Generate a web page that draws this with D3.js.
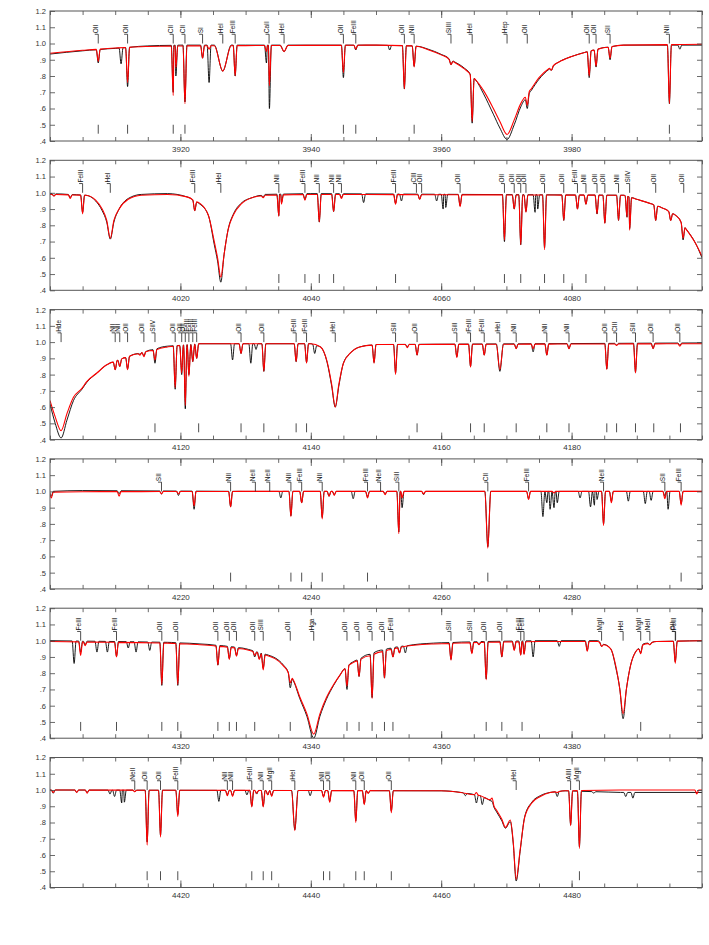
<!DOCTYPE html>
<html>
<head>
<meta charset="utf-8">
<script src="https://cdnjs.cloudflare.com/ajax/libs/d3/7.8.5/d3.min.js"></script>
<style>
body { margin: 0; background: #fff; }
svg { display: block; font-family: "Liberation Sans", Arial, sans-serif; }
</style>
</head>
<body>
<svg id="chart" width="709" height="945"></svg>
<script>
// first wavelength of each panel (each spans 100 A)
var starts = [3900, 4000, 4100, 4200, 4300, 4400];
var yTicks = [0.4, 0.5, 0.6, 0.7, 0.8, 0.9, 1.0, 1.1, 1.2];

// continuum + broad wings: [lambda, model, observed]
var wings1 = [[3900,0.94,0.935],[3905,0.958,0.955],[3910,0.972,0.97],[3915,0.982,0.985],[3920,0.985,0.99],[3930,0.987,0.99],
  [3950,0.99,0.99],[3956,0.985,0.985],[3958,0.962,0.965],[3960,0.93,0.933],[3962,0.885,0.888],[3963.5,0.845,0.85],
  [3965.3,0.775,0.775],[3966.5,0.71,0.69],[3968,0.60,0.565],[3969,0.52,0.48],[3970.1,0.44,0.41],[3971.2,0.53,0.50],
  [3972.2,0.63,0.61],[3973.8,0.72,0.71],[3975,0.79,0.78],[3976.5,0.845,0.84],[3978,0.885,0.885],[3980,0.92,0.92],
  [3982,0.945,0.945],[3984,0.965,0.965],[3986,0.98,0.98],[3988,0.99,0.99],[4000,0.995,0.99]];
var wings2 = [[4000,0.99,0.995],[4005.5,0.985,0.985],[4007,0.955,0.95],[4008,0.90,0.89],[4008.7,0.83,0.82],
  [4009.25,0.72,0.715],[4009.8,0.83,0.82],[4010.6,0.90,0.90],[4012,0.96,0.965],[4014,0.985,0.99],[4018,0.99,0.995],
  [4021,0.975,0.975],[4023,0.935,0.93],[4024.3,0.86,0.86],[4025.2,0.70,0.68],[4025.7,0.60,0.58],[4026.2,0.48,0.45],
  [4026.7,0.62,0.62],[4027.3,0.77,0.77],[4028.2,0.87,0.875],[4029.3,0.93,0.935],[4031,0.97,0.97],[4033,0.985,0.99],
  [4040,0.99,0.995],[4088,0.985,0.985],[4090,0.96,0.96],[4092,0.935,0.935],[4094,0.905,0.905],[4096,0.86,0.86],
  [4097.5,0.78,0.78],[4099,0.69,0.69],[4100,0.61,0.60]];
var wings3 = [[4100,0.64,0.62],[4100.8,0.54,0.50],[4101.7,0.455,0.41],[4102.6,0.56,0.52],[4103.6,0.66,0.64],
  [4104.9,0.715,0.71],[4105.6,0.755,0.75],[4107.2,0.81,0.81],[4108.7,0.86,0.86],[4110.5,0.89,0.89],[4112,0.91,0.91],
  [4114,0.935,0.935],[4116,0.95,0.955],[4118,0.97,0.975],[4120,0.98,0.98],[4123,0.99,0.99],[4140,0.99,0.99],
  [4141.5,0.97,0.97],[4142.5,0.88,0.875],[4143.2,0.74,0.73],[4143.75,0.60,0.60],[4144.3,0.74,0.73],[4145,0.87,0.87],
  [4146,0.93,0.93],[4147.5,0.97,0.97],[4150,0.985,0.985],[4200,0.99,0.995]];
var wings4 = [[4200,0.995,1.0],[4205,0.998,1.005],[4230,1.0,1.0],[4300,1.0,1.0]];
var wings5 = [[4300,0.995,1.0],[4310,0.99,0.995],[4318,0.985,0.99],[4323,0.975,0.98],[4326,0.965,0.97],
  [4328.5,0.955,0.96],[4331,0.935,0.94],[4333.2,0.91,0.915],[4335.8,0.845,0.85],[4337.3,0.76,0.755],
  [4338.3,0.655,0.645],[4339.4,0.55,0.535],[4340.45,0.425,0.40],[4341.4,0.55,0.535],[4342.4,0.65,0.64],
  [4343.5,0.73,0.725],[4344.5,0.79,0.79],[4345.5,0.84,0.84],[4346.5,0.865,0.87],[4347.6,0.885,0.89],
  [4349.6,0.915,0.925],[4351.2,0.935,0.945],[4353.7,0.96,0.965],[4358.8,0.98,0.985],[4366.5,0.99,0.995],
  [4375,0.995,1.0],[4384,0.995,1.0],[4386,0.95,0.95],[4386.8,0.84,0.83],[4387.4,0.70,0.70],[4387.9,0.55,0.52],
  [4388.4,0.70,0.70],[4389,0.84,0.84],[4389.8,0.93,0.93],[4391,0.975,0.98],[4393,0.995,0.995],[4400,1.0,1.0]];
var wings6 = [[4400,1.0,1.0],[4460,0.995,0.995],[4463,0.985,0.985],[4466,0.965,0.965],[4467.5,0.94,0.935],
  [4468.5,0.875,0.865],[4469.3,0.82,0.81],[4469.85,0.77,0.765],[4470.6,0.815,0.805],[4471.05,0.68,0.67],
  [4471.5,0.45,0.44],[4472.1,0.63,0.62],[4472.8,0.83,0.835],[4473.9,0.92,0.925],[4475.2,0.96,0.965],
  [4476.7,0.985,0.985],[4479,0.995,0.995],[4487.5,1.0,0.985],[4500,1.0,0.985]];

// narrow lines: [lambda, model minimum, observed minimum, half width]
var lines1 = [[3907.4,0.89,0.88],[3910.9,null,0.875],[3911.9,0.76,0.735],[3918.9,0.68,0.70],[3919.3,0.85,0.80],
  [3920.7,0.63,0.64],[3923.4,0.91,0.91],[3924.4,0.965,0.76],[3926.5,0.83,0.83,1.3],[3928.4,0.80,0.80],
  [3933.2,0.95,0.88],[3933.65,0.74,0.60],[3935.9,0.95,0.95,0.6],[3945.0,0.82,0.79],[3946.9,0.965,0.96],
  [3952.1,null,0.96],[3954.35,0.72,0.72],[3955.85,0.855,0.86],[3961.5,0.87,0.87],[3964.75,0.52,0.51],
  [3973.2,0.62,0.60],[3976.9,0.835,0.835],[3982.7,0.80,0.79],[3983.75,0.86,0.855],[3985.9,0.91,0.90],
  [3995.0,0.63,0.63],[3996.6,null,0.965]];
var lines2 = [[4000.6,0.98,0.98],[4003.1,0.965,0.97],[4005.0,0.87,0.88],[4022.2,0.89,0.89],[4032.7,0.97,0.975],
  [4035.1,0.855,0.86],[4035.5,0.93,0.94],[4039.1,0.955,0.96],[4041.3,0.82,0.82],[4043.5,0.885,0.885],
  [4044.7,0.965,0.97],[4048.1,null,0.94],[4053.0,0.93,0.935],[4053.9,null,0.95],[4056.7,0.96,0.96],
  [4059.3,null,0.95],[4060.3,null,0.90],[4060.7,null,0.91],[4062.9,0.915,0.92],[4069.7,0.71,0.70],
  [4071.2,0.90,0.90],[4072.2,0.68,0.68],[4073.0,0.88,0.885],[4074.4,null,0.88],[4074.8,null,0.90],
  [4075.85,0.65,0.66],[4078.8,0.83,0.83],[4080.9,0.90,0.90],[4082.2,0.93,0.93],[4083.9,0.87,0.87],
  [4085.1,0.81,0.815],[4087.2,0.83,0.83],[4088.5,0.85,0.85],[4088.9,0.77,0.78],[4092.9,0.83,0.83],
  [4095.2,0.83,0.83],[4097.1,0.72,0.71]];
var lines3 = [[4110.0,0.83,0.83],[4110.7,0.85,0.85],[4111.9,0.83,0.835],[4113.8,0.92,0.925],[4114.4,0.91,0.915],
  [4116.1,0.89,0.87],[4119.2,0.72,0.71],[4120.2,0.81,0.80],[4120.75,0.61,0.59],[4121.3,0.79,0.80],
  [4121.9,0.88,0.88],[4122.5,0.90,0.90],[4128.0,null,0.89],[4129.3,0.93,0.93],[4130.8,null,0.87],
  [4131.6,null,0.955],[4132.8,0.82,0.82],[4137.75,0.88,0.88],[4139.35,0.87,0.875],[4140.6,null,0.93],
  [4149.7,0.87,0.875],[4153.0,0.80,0.81],[4154.8,0.965,0.97],[4156.3,0.92,0.92],[4162.4,0.905,0.91],
  [4164.5,0.845,0.85],[4166.6,0.92,0.92],[4169.0,0.83,0.82,0.55],[4171.5,0.96,0.96],[4174.1,0.96,0.94],
  [4176.2,0.92,0.92],[4179.6,0.96,0.96],[4185.4,0.83,0.835],[4186.9,0.98,0.98],[4189.8,0.81,0.815],
  [4192.5,0.96,0.96],[4196.6,0.975,0.98]];
var lines4 = [[4200.2,0.96,0.97],[4210.6,0.97,0.985],[4217.1,0.985,0.985],[4219.7,0.985,0.975],[4222.1,0.91,0.89],
  [4227.7,0.905,0.905],[4235.4,null,0.96],[4236.95,0.845,0.85],[4238.6,0.93,0.93],[4241.75,0.83,0.84],
  [4242.8,0.97,0.97],[4243.6,0.975,0.98],[4246.5,null,0.955],[4248.7,0.96,0.965],[4251.4,0.98,0.985],
  [4253.5,0.74,0.75],[4254.0,0.96,0.90],[4257.3,0.985,0.98],[4267.15,0.65,0.66,0.45],[4273.4,0.95,0.955],
  [4275.6,null,0.845],[4276.2,null,0.93],[4276.7,null,0.89],[4277.3,0.99,0.90],[4277.8,null,0.93],
  [4281.3,null,0.96],[4282.9,null,0.905],[4283.5,null,0.915],[4283.9,null,0.95],[4284.9,0.79,0.80],
  [4286.1,0.93,0.94],[4288.7,null,0.94],[4291.3,null,0.925],[4292.2,null,0.945],[4294.3,0.955,0.97],
  [4294.8,null,0.89],[4296.8,0.915,0.925]];
var lines5 = [[4303.7,null,0.86],[4304.7,0.91,0.93],[4305.4,0.97,0.975],[4307.2,null,0.93],[4308.8,null,0.93],
  [4310.2,0.90,0.905],[4312.0,null,0.955],[4313.2,null,0.93],[4315.3,null,0.94],[4317.15,0.73,0.725],
  [4319.6,0.73,0.725],[4325.75,0.85,0.85],[4327.5,0.885,0.89],[4328.6,0.905,0.91],[4331.4,0.91,0.90],
  [4332.1,0.885,0.89],[4332.7,0.82,0.83],[4336.85,0.74,0.71],[4345.55,0.72,0.70],[4347.4,0.78,0.78],
  [4349.4,0.645,0.65],[4351.3,0.77,0.77],[4352.6,0.90,0.90],[4353.6,0.925,0.925],[4354.5,null,0.925],
  [4361.5,0.88,0.885],[4364.7,0.92,0.925],[4365.8,0.975,0.975],[4366.9,0.76,0.765],[4369.3,0.90,0.90],
  [4371.2,0.94,0.945],[4372.2,0.91,0.915],[4372.7,0.915,0.92],[4374.1,null,0.90],[4378.1,null,0.965],
  [4382.4,0.935,0.94],[4384.6,0.965,0.965],[4390.6,0.92,0.925],[4392.0,0.975,0.975],[4395.9,0.86,0.87]];
var lines6 = [[4400.5,0.985,0.98],[4404.1,0.985,0.985],[4405.7,0.98,0.985],[4409.2,null,0.975],[4409.9,null,0.96],
  [4411.0,null,0.92],[4411.4,null,0.925],[4413.0,0.99,0.99],[4414.9,0.66,0.68],[4416.95,0.71,0.72],
  [4419.6,0.835,0.85],[4425.9,null,0.93],[4427.2,0.965,0.97],[4428.0,0.96,0.965],[4430.2,null,0.97],
  [4430.95,0.895,0.90],[4431.7,0.98,0.975],[4432.7,0.895,0.90],[4433.4,0.97,0.97],[4434.0,0.96,0.965],
  [4437.55,0.75,0.755,0.5],[4439.9,null,0.965],[4441.95,0.955,0.96],[4442.9,0.925,0.93],[4446.9,0.80,0.81],
  [4448.2,0.91,0.915],[4448.8,0.98,0.98],[4452.35,0.86,0.87],[4463.7,null,0.965],[4465.4,0.985,0.92],
  [4466.3,null,0.91],[4467.8,0.95,0.93],[4477.8,0.985,0.96],[4479.85,0.78,0.785],[4481.2,0.64,0.65],
  [4483.4,null,0.98],[4488.3,null,0.96],[4489.4,null,0.95],[4499.2,0.975,null]];

// line identifications at the top of each panel
var labels1 = [[3907.4,"OII"],[3911.9,"OII"],[3918.9,"CII"],[3920.7,"CII"],[3923.4,"SI"],[3926.5,"HeI"],
  [3928.4,"FeIII"],[3933.6,"CaII"],[3935.9,"HeI"],[3945.0,"OII"],[3946.9,"FeIII"],[3954.35,"OII"],[3955.85,"NII"],
  [3961.5,"SiIII"],[3964.75,"HeI"],[3970.1,"Hep"],[3973.2,"OII"],[3982.7,"OII"],[3983.75,"OII"],[3985.9,"SII"],
  [3995.0,"NII"]];
var labels2 = [[4005.0,"FeIII"],[4009.25,"HeI"],[4022.2,"FeIII"],[4026.2,"HeI"],[4035.1,"NII"],[4039.1,"FeIII"],
  [4041.3,"NII"],[4043.5,"NII"],[4044.7,"NII"],[4053.0,"FeIII"],[4056.2,"CIII"],[4057.0,"OII"],[4062.9,"OII"],
  [4069.7,"OII"],[4071.2,"OII"],[4072.2,"OII"],[4073.0,"OII"],[4075.85,"OII"],[4078.8,"OII"],[4080.9,"FeIII"],
  [4082.2,"NII"],[4083.9,"OII"],[4085.1,"OII"],[4087.2,"NII"],[4088.9,"SiIV"],[4092.9,"OII"],[4097.2,"OII"]];
var labels3 = [[4101.7,"Hde"],[4110.0,"NII"],[4110.7,"NII"],[4111.9,"OII"],[4114.4,"OII"],[4116.1,"SiIV"],
  [4119.2,"OII"],[4120.2,"OII"],[4120.75,"OII"],[4121.3,"FeIII"],[4121.9,"FeIII"],[4122.5,"FeIII"],[4129.3,"OII"],
  [4132.8,"OII"],[4137.75,"FeIII"],[4139.35,"FeIII"],[4143.75,"HeI"],[4153.0,"SiII"],[4156.3,"OII"],[4162.4,"SiII"],
  [4164.5,"FeIII"],[4166.6,"FeIII"],[4169.0,"HeI"],[4171.5,"NII"],[4176.2,"NII"],[4179.6,"NII"],[4185.4,"OII"],
  [4186.9,"CIII"],[4189.8,"SiII"],[4192.5,"OII"],[4196.6,"OII"]];
var labels4 = [[4217.1,"SII"],[4227.7,"NII"],[4231.5,"NeII"],[4233.7,"NeII"],[4236.95,"NII"],[4238.6,"FeIII"],
  [4241.75,"NII"],[4248.7,"FeIII"],[4250.7,"NeII"],[4253.5,"SiII"],[4267.15,"CII"],[4273.4,"FeIII"],
  [4284.9,"NeII"],[4294.3,"SII"],[4296.8,"FeIII"]];
var labels5 = [[4304.7,"FeIII"],[4310.2,"FeIII"],[4317.15,"OII"],[4319.6,"OII"],[4325.75,"OII"],[4327.5,"OII"],
  [4328.6,"OII"],[4331.4,"OII"],[4332.7,"SiIII"],[4336.85,"OII"],[4340.45,"Hga"],[4345.55,"OII"],[4347.4,"OII"],
  [4349.4,"OII"],[4351.3,"OII"],[4352.6,"FeIII"],[4361.5,"SIII"],[4364.7,"SIII"],[4366.9,"OII"],[4369.3,"OII"],
  [4372.2,"FeIII"],[4372.7,"FeIII"],[4384.6,"MgII"],[4387.9,"HeI"],[4390.6,"MgII"],[4392.0,"NeII"],
  [4395.9,"OII"],[4395.95,"FeIII"]];
var labels6 = [[4413.0,"NeII"],[4414.9,"OII"],[4416.95,"OII"],[4419.6,"FeIII"],[4427.2,"NII"],[4428.0,"NII"],
  [4430.95,"FeIII"],[4432.7,"NII"],[4434.0,"MgII"],[4437.55,"HeI"],[4441.95,"NII"],[4442.9,"OII"],[4446.9,"NII"],
  [4448.2,"OII"],[4452.35,"OII"],[4471.5,"HeI"],[4479.85,"AlIII"],[4481.2,"MgII"]];

// short marks near the bottom of each panel
var marks1 = [3907.4,3911.9,3918.9,3920.7,3945.0,3946.9,3955.85,3995.0];
var marks2 = [4035.1,4039.1,4041.3,4043.5,4053.0,4069.7,4072.2,4075.85,4078.8,4082.2];
var marks3 = [4116.1,4122.8,4129.3,4132.8,4137.75,4139.35,4156.3,4164.5,4166.6,4171.5,4176.2,4179.6,4185.4,
  4186.9,4189.8,4192.6,4196.7];
var marks4 = [4227.7,4236.95,4238.6,4241.75,4248.7,4267.15,4296.8];
var marks5 = [4304.7,4310.2,4317.15,4319.6,4325.75,4327.5,4328.6,4331.4,4336.85,4345.55,4347.4,4349.4,4351.3,
  4352.6,4366.9,4369.3,4372.4,4390.6];
var marks6 = [4414.9,4416.95,4419.6,4430.95,4432.7,4434.0,4441.95,4442.9,4446.9,4448.2,4452.35,4481.2];

var allWings = [wings1, wings2, wings3, wings4, wings5, wings6];
var allLines = [lines1, lines2, lines3, lines4, lines5, lines6];
var allLabels = [labels1, labels2, labels3, labels4, labels5, labels6];
var allMarks = [marks1, marks2, marks3, marks4, marks5, marks6];

var left = 50, W = 652, H = 130, firstTop = 11, step = 149.3;
var halfWidth = 0.3;
var svg = d3.select('#chart');

// builds one spectrum (k=1 model, k=2 observed) from wings + line minima
function spectrum(wings, lines, k) {
    var w = wings.filter(function (d) { return d[k] != null; });
    var cont = d3.scaleLinear()
        .domain(w.map(function (d) { return d[0]; }))
        .range(w.map(function (d) { return d[k]; }))
        .clamp(true);
    var ls = lines.filter(function (d) { return d[k] != null; });
    var pts = [];
    ls.forEach(function (d) {
        var hw = d[3] || halfWidth;
        pts.push([d[0], d[k]]);
        [-hw, hw].forEach(function (o) {
            var s = d[0] + o;
            var blocked = ls.some(function (l) {
                return l !== d && (o < 0 ? (l[0] >= s - 0.05 && l[0] < d[0]) : (l[0] <= s + 0.05 && l[0] > d[0]));
            });
            if (!blocked) pts.push([s, cont(s)]);
        });
    });
    w.forEach(function (d) {
        var inside = ls.some(function (l) { return Math.abs(l[0] - d[0]) < (l[3] || halfWidth); });
        if (!inside) pts.push([d[0], d[k]]);
    });
    pts.sort(function (a, b) { return a[0] - b[0]; });
    var out = [];
    pts.forEach(function (p) {
        if (!out.length || p[0] - out[out.length - 1][0] > 0.02) out.push(p);
    });
    return out;
}

var fmtY = function (d) { var s = d.toFixed(1); return d < 1 ? s.slice(1) : s; };

starts.forEach(function (s0, i) {
    var top = firstTop + i * step;
    var g = svg.append('g').attr('transform', 'translate(' + left + ',' + top + ')');

    var x = d3.scaleLinear().domain([s0, s0 + 100]).range([0, W]);
    var y = d3.scaleLinear().domain([0.4, 1.2]).range([H, 0]);

    g.append('clipPath').attr('id', 'clip' + i)
        .append('rect').attr('width', W).attr('height', H);

    var plot = g.append('g').attr('clip-path', 'url(#clip' + i + ')');

    var line = d3.line()
        .x(function (d) { return x(d[0]); })
        .y(function (d) { return y(d[1]); })
        .curve(d3.curveMonotoneX);

    // observed (black) then model (red)
    plot.append('path')
        .datum(spectrum(allWings[i], allLines[i], 2))
        .attr('d', line)
        .attr('fill', 'none')
        .attr('stroke', '#000')
        .attr('stroke-width', 0.9);

    plot.append('path')
        .datum(spectrum(allWings[i], allLines[i], 1))
        .attr('d', line)
        .attr('fill', 'none')
        .attr('stroke', '#ff0000')
        .attr('stroke-width', 1.1);

    // bottom identification marks
    plot.selectAll('.mark').data(allMarks[i]).enter().append('line')
        .attr('class', 'mark')
        .attr('x1', function (d) { return x(d); })
        .attr('x2', function (d) { return x(d); })
        .attr('y1', y(0.445))
        .attr('y2', y(0.5))
        .attr('stroke', '#222')
        .attr('stroke-width', 0.8);

    // labels with leaders
    var lab = plot.selectAll('.lab').data(allLabels[i]).enter().append('g').attr('class', 'lab');
    lab.append('line')
        .attr('x1', function (d) { return x(d[0]); })
        .attr('x2', function (d) { return x(d[0]); })
        .attr('y1', y(1.057))
        .attr('y2', y(1.0))
        .attr('stroke', '#222')
        .attr('stroke-width', 0.8);
    lab.append('line')
        .attr('x1', function (d) { return x(d[0]) - 3.5; })
        .attr('x2', function (d) { return x(d[0]); })
        .attr('y1', y(1.057))
        .attr('y2', y(1.057))
        .attr('stroke', '#222')
        .attr('stroke-width', 0.8);
    lab.append('text')
        .attr('transform', function (d) { return 'translate(' + x(d[0]) + ',' + (y(1.057) - 1) + ') rotate(-90)'; })
        .attr('font-size', 6.5)
        .attr('fill', '#111')
        .text(function (d) { return d[1]; });

    // axes
    var xMinor = d3.range(s0, s0 + 100.1, 5);
    var xMajor = d3.range(s0 + 20, s0 + 100, 20);

    var bottom = g.append('g').attr('transform', 'translate(0,' + H + ')')
        .call(d3.axisBottom(x).tickValues(xMinor).tickSize(-4).tickFormat(''));
    var bottomMaj = g.append('g').attr('transform', 'translate(0,' + H + ')')
        .call(d3.axisBottom(x).tickValues(xMajor).tickSize(-7).tickPadding(5).tickFormat(d3.format('d')));
    var topAx = g.append('g')
        .call(d3.axisTop(x).tickValues(xMinor).tickSize(-4).tickFormat(''));
    var topMaj = g.append('g')
        .call(d3.axisTop(x).tickValues(xMajor).tickSize(-7).tickFormat(''));
    var leftAx = g.append('g')
        .call(d3.axisLeft(y).tickValues(yTicks).tickSize(-5).tickPadding(4).tickFormat(fmtY));
    var rightAx = g.append('g').attr('transform', 'translate(' + W + ',0)')
        .call(d3.axisRight(y).tickValues(yTicks).tickSize(-5).tickFormat(''));

    [bottom, bottomMaj, topAx, topMaj, leftAx, rightAx].forEach(function (a) {
        a.select('.domain').remove();
        a.selectAll('line').attr('stroke', '#444').attr('stroke-width', 0.8);
        a.selectAll('text').attr('font-size', 8).attr('fill', '#333')
            .attr('font-family', '"Liberation Sans", Arial, sans-serif');
    });
    leftAx.selectAll('text').attr('font-size', 7.5);

    g.append('rect')
        .attr('width', W).attr('height', H)
        .attr('fill', 'none')
        .attr('stroke', '#555')
        .attr('stroke-width', 1);
});
</script>
</body>
</html>
